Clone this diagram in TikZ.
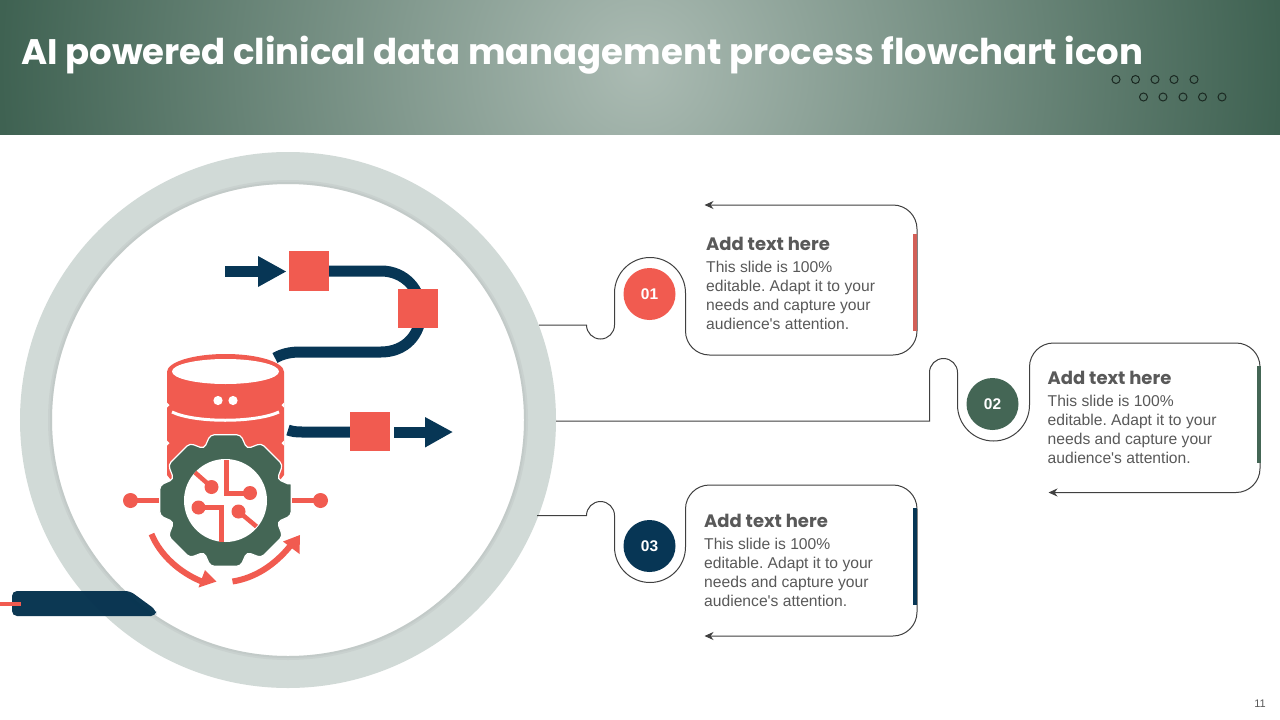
\documentclass[tikz,border=0pt]{standalone}
\usepackage{fontspec}
\setmainfont{Liberation Sans}
\newfontfamily\headfont{Poppins}
\usetikzlibrary{arrows.meta}
\usetikzlibrary{calc}
\usetikzlibrary{positioning}

\definecolor{coral}{HTML}{F15B50}
\definecolor{navy}{HTML}{073655}
\definecolor{deepnavy}{HTML}{03304D}
\definecolor{pine}{HTML}{446655}
\definecolor{ringgrey}{HTML}{D1DAD7}
\definecolor{bandlight}{HTML}{ABBBB3}
\definecolor{banddark}{HTML}{3F6252}
\definecolor{inktext}{HTML}{595959}

\pgfdeclareradialshading{bandglow}{\pgfpointorigin}{color(0bp)=(bandlight); color(25bp)=(banddark); color(50bp)=(banddark)}

\newcommand{\slidetext}{This slide is 100\%\\editable. Adapt it to your\\needs and capture your\\audience\textquotesingle s attention.}

\tikzset{
	calloutline/.style={draw=black!75, line width=1pt, -{Stealth[length=9pt,width=8pt]}},
	numdot/.style={circle, minimum size=52pt, inner sep=0pt, text=white, font=\bfseries\fontsize{15.5}{15.5}\selectfont},
	headtext/.style={anchor=west, inner sep=0pt, text=inktext, font=\headfont\bfseries\fontsize{18}{20}\selectfont},
	bodytext/.style={anchor=north west, inner sep=0pt, align=left, text=inktext, font=\frenchspacing\fontsize{15.65}{19}\selectfont},
	trace/.style={draw=coral, line width=5pt},
	tracedot/.style={fill=coral},
	flowline/.style={draw=navy, line width=11pt},
	flowsquare/.style={fill=coral},
	holedot/.style={draw=black!60!pine, line width=1pt}
}

\begin{document}
\begin{tikzpicture}[x=1pt, y=-1pt]
	\useasboundingbox (0,0) rectangle (1280,720);
	\fill[white] (0,0) rectangle (1280,720);

	% band
	\begin{scope}
		\clip (0,0) rectangle (1280,134);
		\shade[shading=bandglow] (0,-573) rectangle (1280,707);
	\end{scope}
	\node[anchor=west, inner sep=0pt, text=white, font=\headfont\bfseries\fontsize{35.5}{38}\selectfont] (title) at (21,55) {AI powered clinical data management process flowchart icon};
	\foreach \x in {1116,1135.5,1155,1174,1194}
		\draw[holedot] (\x,79.5) circle(4);
	\foreach \x in {1143.5,1163,1183,1202.5,1222}
		\draw[holedot] (\x,97) circle(4);

	% ring
	\draw[ringgrey, line width=32pt] (288,420) circle(252);
	\draw[black!30!ringgrey, line width=4pt, opacity=0.12] (288,420) circle(238);
	\draw[black!30!ringgrey, line width=2pt, opacity=0.12] (288,420) circle(237);

	% bar
	\fill[deepnavy, opacity=0.96, rounded corners=5pt] (12,591) -- (130,591) -- (156,610) -- (156,616) -- (12,616) -- cycle;
	\fill[coral] (0,601.5) rectangle (21,605.5);

	% flow lines
	\draw[flowline] (225,271) -- (262,271);
	\fill[navy] (258,256) -- (286,271.5) -- (258,287) -- cycle;
	\draw[flowline] (325,271) -- (381,271) .. controls (405,271) and (421,290) .. (421,311) .. controls (421,335) and (405,352) .. (381,352) -- (300,352) .. controls (290,352) and (282,354) .. (275,358);
	\fill[flowsquare] (289,251) rectangle (329,291);
	\fill[flowsquare] (398,289) rectangle (438,328);
	\draw[flowline] (288,430) .. controls (292,431.5) and (296,432) .. (302,432) -- (352,432);
	\fill[flowsquare] (350,412) rectangle (390,451);
	\draw[flowline] (394,432) -- (428,432);
	\fill[navy] (425,417) -- (452.5,432) -- (425,447.5) -- cycle;

	% database
	\fill[coral] (167,372) arc[x radius=58.5, y radius=18, start angle=180, end angle=360] -- (284,475) -- (276,485) -- (175,485) -- (167,475) -- cycle;
	\fill[white] (225.5,371.5) ellipse[x radius=53.5, y radius=12.5];
	\draw[white, line width=3pt] (172,412) .. controls (195,423) and (255,423) .. (279,412);
	\fill[white] (218,400.5) circle(4.6);
	\fill[white] (233,400.5) circle(4.6);
	\foreach \y in {405,443} {
		\fill[white] (167,\y-2.5) -- (169.5,\y) -- (167,\y+2.5) -- cycle;
		\fill[white] (284,\y-2.5) -- (281.5,\y) -- (284,\y+2.5) -- cycle;
	}

	% side pins
	\draw[trace] (130.5,500.5) -- (165,500.5);
	\draw[trace] (285,500.5) -- (320.5,500.5);
	\fill[tracedot] (130.5,500.5) circle(7.5);
	\fill[tracedot] (320.5,500.5) circle(7.5);

	% gear
	\begin{scope}[shift={(225.5,500.5)}]
		\draw[fill=pine, draw=white, line width=1.2pt, rounded corners=4pt] (-13:67.5)
			\foreach \a in {0,45,...,315} { -- (\a-13:67.5) -- (\a+13:67.5) -- (\a+22.5:56) }
			-- cycle;
		\fill[white] (0,0) circle(41.5);
	\end{scope}

	% circuit
	\draw[trace, line width=4.5pt] (195,472.5) -- (211.5,487);
	\fill[tracedot] (211.5,487) circle(7);
	\draw[trace, line width=5pt] (226.5,460) -- (226.5,493) -- (250,493);
	\fill[tracedot] (250,493) circle(7);
	\draw[trace, line width=5pt] (198.5,507.5) -- (221.5,507.5) -- (221.5,541.5);
	\fill[tracedot] (198.5,507.5) circle(7);
	\draw[trace, line width=4.5pt] (238.5,511.5) -- (256.5,526.5);
	\fill[tracedot] (238.5,511.5) circle(7);

	% turn arrows
	\draw[trace, line width=6pt] (151.5,534) .. controls (160,555) and (180,573) .. (203,582);
	\fill[coral] (205,570) -- (216.5,581.5) -- (198.5,587.5) -- cycle;
	\draw[trace, line width=6pt] (232.5,581.5) .. controls (255,578) and (275,565) .. (291,545);
	\fill[coral] (283,541.5) -- (300,535) -- (299.5,554) -- cycle;

	% 01
	\coordinate (lineA) at (539,325);
	\coordinate (tipA) at (704.5,205);
	\draw[calloutline] (lineA) -- (586.5,325) arc(180:0:14) -- (614.5,293) arc(180:360:35.5) -- (685.5,293) -- (685.5,331) arc(180:90:24) -- (893,355) arc(90:0:24) -- (917,229) arc(0:-90:24) -- (tipA);
	\fill[coral!85!black!90] (913,234) rectangle (917,331);
	\node[numdot, fill=coral] (numA) at (649.5,294) {01};
	\node[headtext] (headA) at (706,244) {Add text here};
	\node[bodytext] (bodyA) at (706,260.5) {\slidetext};

	% 02
	\coordinate (lineB) at (556,421);
	\coordinate (tipB) at (1048.5,492.5);
	\draw[calloutline] (lineB) -- (929.5,421) -- (929.5,372.5) arc(180:360:14) -- (957.5,405) arc(180:0:36) -- (1029.5,367) arc(180:270:24) -- (1236,343) arc(-90:0:24) -- (1260,468.5) arc(0:90:24) -- (tipB);
	\fill[pine] (1257,366) rectangle (1261,463);
	\node[numdot, fill=pine] (numB) at (992.5,404) {02};
	\node[headtext] (headB) at (1047.5,378) {Add text here};
	\node[bodytext] (bodyB) at (1047.5,395) {\slidetext};

	% 03
	\coordinate (lineC) at (537,515.5);
	\coordinate (tipC) at (704.5,636);
	\draw[calloutline] (lineC) -- (586.5,515.5) arc(180:360:14) -- (614.5,547) arc(180:0:35.5) -- (685.5,509) arc(180:270:24) -- (893,485) arc(-90:0:24) -- (917,612) arc(0:90:24) -- (tipC);
	\fill[navy] (913,508) rectangle (917,605);
	\node[numdot, fill=navy] (numC) at (649.5,546) {03};
	\node[headtext] (headC) at (704,520.5) {Add text here};
	\node[bodytext] (bodyC) at (704,537.5) {\slidetext};

	\node[inner sep=0pt, text=inktext, font=\fontsize{11}{11}\selectfont] (pagenum) at (1260,704) {11};
\end{tikzpicture}
\end{document}
